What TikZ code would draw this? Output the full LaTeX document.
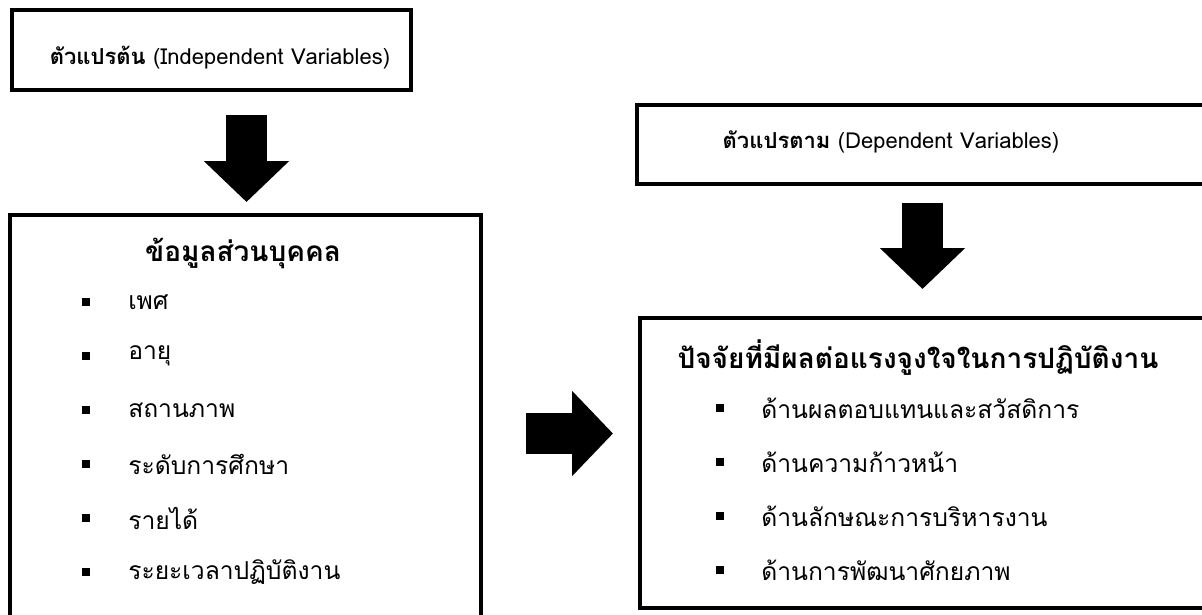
\documentclass[tikz,border=0pt]{standalone}
\usepackage{fontspec}
\setmainfont{Loma}[Script=Thai]
\usetikzlibrary{arrows.meta, positioning}

\begin{document}
\begin{tikzpicture}[x=0.75pt, y=-0.75pt,
    framebox/.style={draw, line width=3.5pt, inner sep=0pt},
    bigarrow/.style={line width=30.75pt, -{Triangle[length=30.75pt, width=62.25pt]}},
    sqbullet/.style={fill, minimum size=6.5pt, inner sep=0pt},
    entry/.style={anchor=west, inner sep=0pt, font=\fontsize{18.5}{22}\selectfont},
    heading/.style={inner sep=0pt, font=\fontsize{21}{25}\selectfont\bfseries},
    toplabel/.style={inner sep=0pt, font=\fontsize{16.5}{20}\selectfont}]
  \clip (0,0) rectangle (1202,614);

  % Boxes
  \node[framebox, minimum width=299.25pt, minimum height=60pt] (indep) at (211.5,50) {};
  \node[framebox, minimum width=353.25pt, minimum height=333.75pt] (personal) at (245.5,437.5) {};
  \node[framebox, minimum width=452.25pt, minimum height=59.25pt] (dep) at (938.5,144.5) {};
  \node[framebox, minimum width=450pt, minimum height=217.5pt] (factors) at (940,463) {};

  % Headings of the top boxes
  \node[toplabel] (indeplabel) at (220,58) {\textbf{ตัวแปรต้น} (Independent Variables)};
  \node[toplabel] (deplabel) at (891,142) {\textbf{ตัวแปรตาม} (Dependent Variables)};

  % Personal data
  \node[heading] (personaltitle) at (243,253) {ข้อมูลส่วนบุคคล};
  \foreach \txt [count=\i] in {เพศ, อายุ, สถานภาพ, ระดับการศึกษา, รายได้, ระยะเวลาปฏิบัติงาน} {
    \node[sqbullet] (pb\i) at (86,{302+54*(\i-1)}) {};
    \node[entry] (pi\i) at (128,{302+54*(\i-1)}) {\txt};
  }

  % Motivation factors
  \node[heading] (factorstitle) at (918,358) {ปัจจัยที่มีผลต่อแรงจูงใจในการปฏิบัติงาน};
  \foreach \txt [count=\i] in {ด้านผลตอบแทนและสวัสดิการ, ด้านความก้าวหน้า, ด้านลักษณะการบริหารงาน, ด้านการพัฒนาศักยภาพ} {
    \node[sqbullet] (fb\i) at (720,{408+54*(\i-1)}) {};
    \node[entry] (fi\i) at (761,{408+54*(\i-1)}) {\txt};
  }

  % Block arrows
  \coordinate (a1s) at (246.5,115);
  \coordinate (a1e) at (246.5,202);
  \coordinate (a2s) at (922.5,203);
  \coordinate (a2e) at (922.5,289);
  \coordinate (a3s) at (526,433.5);
  \coordinate (a3e) at (613,433.5);
  \draw[bigarrow] (a1s) -- (a1e);
  \draw[bigarrow] (a2s) -- (a2e);
  \draw[bigarrow] (a3s) -- (a3e);
\end{tikzpicture}
\end{document}
